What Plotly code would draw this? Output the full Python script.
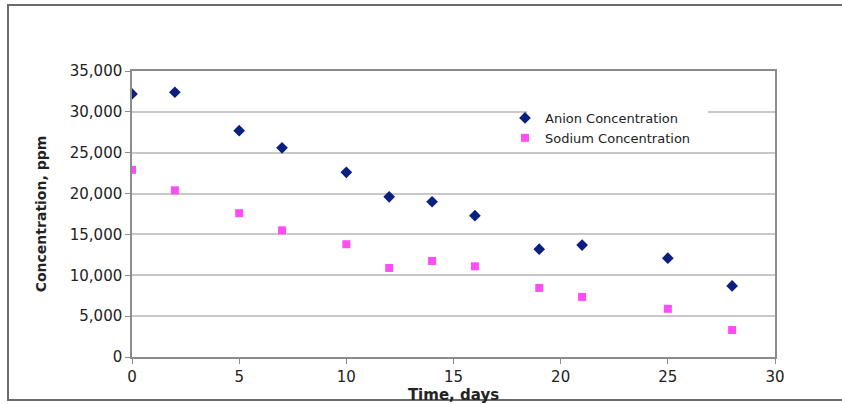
import plotly.graph_objects as go

days = [0, 2, 5, 7, 10, 12, 14, 16, 19, 21, 25, 28]
anion = [32200, 32400, 27700, 25600, 22600, 19600, 19000, 17300, 13200, 13700, 12100, 8700]
sodium = [22900, 20400, 17600, 15500, 13800, 10900, 11750, 11100, 8450, 7350, 5900, 3300]

fig = go.Figure()
fig.add_trace(go.Scatter(x=days, y=anion, mode="markers", name="Anion Concentration",
                         marker=dict(symbol="diamond", size=9, color="#0a1f80")))
fig.add_trace(go.Scatter(x=days, y=sodium, mode="markers", name="Sodium Concentration",
                         marker=dict(symbol="square", size=8, color="#ff4df5")))

L, R, T, B = 132, 775, 71, 357
W, H = 842, 404
pw, ph = R - L, B - T

def px(x):
    return (x - L) / pw

def py(y):
    return (B - y) / ph

# outer chart frame
fig.add_shape(type="rect", xref="paper", yref="paper",
              x0=px(8), x1=px(846), y0=py(400), y1=py(5),
              line=dict(color="#6a6a6a", width=2), layer="below")
# legend background box
fig.add_shape(type="rect", xref="paper", yref="paper",
              x0=px(527), x1=px(708), y0=py(146), y1=py(106),
              line=dict(width=0), fillcolor="white", layer="above")

fig.update_layout(
    width=W, height=H,
    margin=dict(l=L, r=W - R, t=T, b=H - B),
    paper_bgcolor="white", plot_bgcolor="white",
    font=dict(family="DejaVu Sans", size=15, color="#222"),
    showlegend=True,
    legend=dict(x=px(505), y=py(103), xanchor="left", yanchor="top",
                bgcolor="rgba(0,0,0,0)", borderwidth=0, font=dict(size=13, color="#222"),
                itemwidth=30, tracegroupgap=0),
    xaxis=dict(range=[0, 30], dtick=5, showgrid=False, showline=True, mirror=True,
               linecolor="#8c8c8c", linewidth=1.5, ticks="outside", ticklen=5,
               tickcolor="#8c8c8c", zeroline=False, tickfont=dict(size=15),
               automargin=False,
               title=dict(text="<b>Time, days</b>", standoff=0, font=dict(size=15))),
    yaxis=dict(range=[0, 35000], dtick=5000, tickformat=",", showgrid=True,
               gridcolor="#c8c8c8", gridwidth=1.5, showline=True, mirror=True,
               linecolor="#8c8c8c", linewidth=1.5, ticks="outside", ticklen=5,
               tickcolor="#8c8c8c", zeroline=False, tickfont=dict(size=15),
               automargin=False,
               title=dict(text="<b>Concentration, ppm</b>", standoff=20, font=dict(size=14))),
)

fig.write_html("out.html")
